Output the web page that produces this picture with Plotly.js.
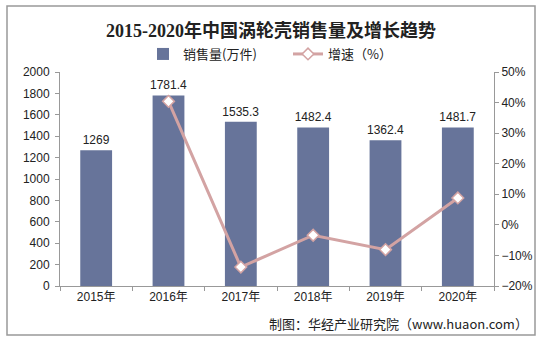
<!DOCTYPE html>
<html>
<head>
<meta charset="utf-8">
<script src="https://cdn.plot.ly/plotly-3.0.1.min.js"></script>
<style>html,body{margin:0;padding:0;background:#fff;}#chart{width:542px;height:342px;}</style>
</head>
<body>
<div id="chart"></div>
<script>
const years = ['2015年','2016年','2017年','2018年','2019年','2020年'];
const sales = [1269, 1781.4, 1535.3, 1482.4, 1362.4, 1481.7];
const salesLabels = ['1269','1781.4','1535.3','1482.4','1362.4','1481.7'];
const growthYears = ['2016年','2017年','2018年','2019年','2020年'];
const growth = [40.4, -13.8, -3.4, -8.1, 8.8];

const W = 542, H = 342, L = 60, R = 48, T = 72, B = 56;
const pw = W - L - R, ph = H - T - B;
const px = x => (x - L) / pw;
const py = y => (H - B - y) / ph;

const font = 'Liberation Sans, Arial, Noto Sans CJK SC, sans-serif';

const data = [
  {
    type: 'bar', x: years, y: sales, name: '销售量(万件)',
    marker: {color: '#67749A'}, width: 0.44,
    text: salesLabels, textposition: 'outside', cliponaxis: false, constraintext: 'none',
    textfont: {size: 12, color: '#222', family: font},
    hoverinfo: 'none'
  },
  {
    type: 'scatter', mode: 'lines+markers', x: growthYears, y: growth, yaxis: 'y2',
    name: '增速（%）',
    line: {color: '#D3A3A3', width: 3},
    marker: {symbol: 'diamond', size: 9, color: '#ffffff', line: {color: '#D3A3A3', width: 1.5}},
    hoverinfo: 'none'
  }
];

const layout = {
  width: W, height: H,
  margin: {l: L, r: R, t: T, b: B, pad: 0},
  paper_bgcolor: '#fff', plot_bgcolor: '#fff',
  showlegend: true,
  title: {
    text: '<b>2015-2020年中国涡轮壳销售量及增长趋势</b>',
    x: 0.5, xanchor: 'center', y: 1 - 31/H, yanchor: 'middle',
    font: {family: 'Liberation Serif, Noto Sans CJK SC, serif', size: 18, color: '#222'}
  },
  legend: {
    orientation: 'h', x: px(143), xanchor: 'left', y: py(54), yanchor: 'middle',
    font: {family: 'Noto Sans CJK SC, sans-serif', size: 13, color: '#222'},
    itemwidth: 30, entrywidth: 100, entrywidthmode: 'pixels', tracegroupgap: 0, bgcolor: 'rgba(0,0,0,0)'
  },
  xaxis: {
    type: 'category', showgrid: false, showline: true, linecolor: '#999', linewidth: 1,
    ticks: 'outside', tickson: 'boundaries', ticklen: 4, tickcolor: '#999',
    tickfont: {family: font, size: 12, color: '#222'}, fixedrange: true
  },
  yaxis: {
    range: [0, 2000], dtick: 200, showgrid: false, zeroline: false,
    showline: true, linecolor: '#999', linewidth: 1, ticks: 'outside', ticklen: 4, tickcolor: '#999',
    tickfont: {family: font, size: 12, color: '#222'}, ticklabelstandoff: 3
  },
  yaxis2: {
    overlaying: 'y', side: 'right', range: [-20, 50], dtick: 10, ticksuffix: '%',
    showgrid: false, zeroline: false, showline: true, linecolor: '#999', linewidth: 1,
    ticks: 'outside', ticklen: 4, tickcolor: '#999',
    tickfont: {family: font, size: 12, color: '#222'}
  },
  shapes: [
    {type: 'rect', xref: 'paper', yref: 'paper', x0: px(7), x1: px(535), y0: py(335), y1: py(6),
     line: {color: '#999', width: 1.5}, fillcolor: 'rgba(0,0,0,0)', layer: 'below'}
  ],
  annotations: [
    {xref: 'paper', yref: 'paper', x: px(530), y: py(323), xanchor: 'right', yanchor: 'middle',
     text: '制图：华经产业研究院（www.huaon.com）', showarrow: false,
     font: {family: 'Noto Sans CJK SC, Liberation Sans, sans-serif', size: 13, color: '#222'}}
  ]
};

Plotly.newPlot('chart', data, layout, {displayModeBar: false, staticPlot: true});
</script>
</body>
</html>
